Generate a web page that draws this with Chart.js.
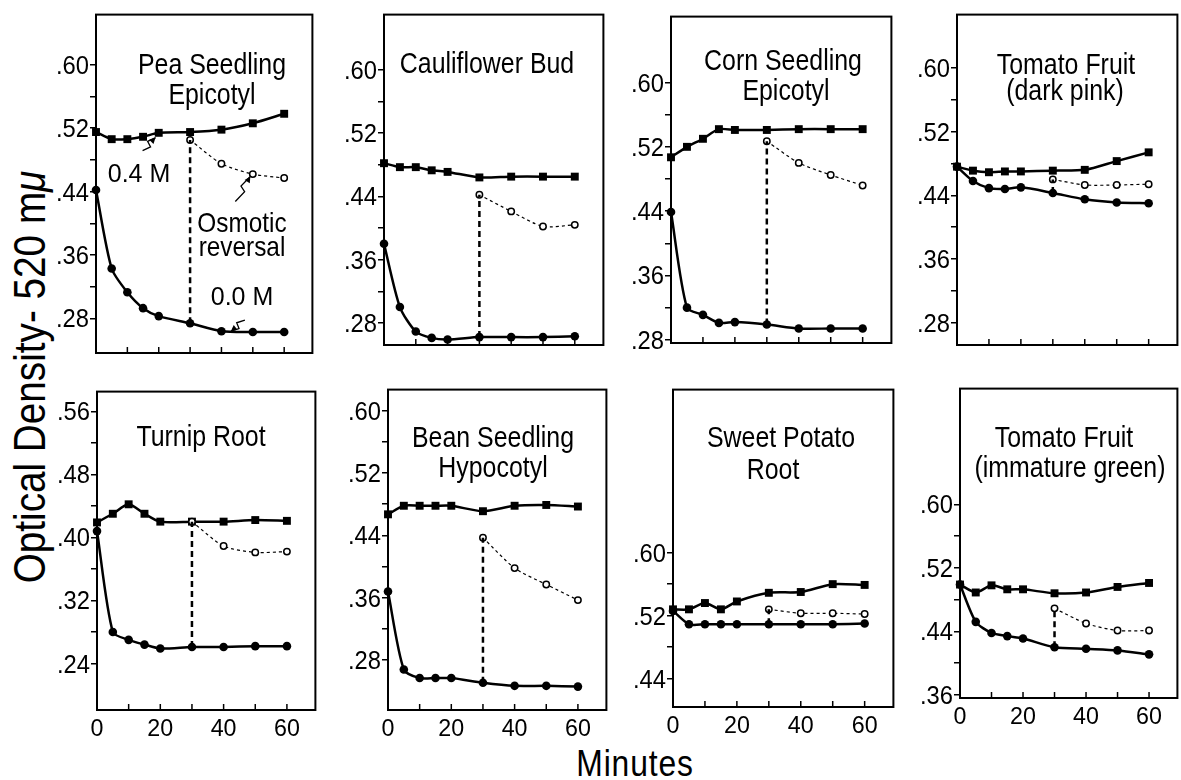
<!DOCTYPE html>
<html>
<head>
<meta charset="utf-8">
<script src="https://cdn.jsdelivr.net/npm/chart.js@4"></script>
<style>
  html, body { margin: 0; padding: 0; background: #fff; width: 1181px; height: 780px; overflow: hidden; }
  .panel { position: absolute; }
  .lbl { position: absolute; color: #000; white-space: nowrap; line-height: 1.15;
         font-family: "Liberation Sans", Arial, sans-serif; }
  #ylab { left: 30px; top: 377px; font-size: 45px; transform: translate(-50%, -50%) rotate(-90deg) scaleX(0.86); }
  #xlab { left: 635px; top: 764px; font-size: 37px; letter-spacing: 1px; transform: translate(-50%, -50%) scaleX(0.86); }
</style>
</head>
<body>
<div id="ylab" class="lbl">Optical Density- 520 m<i>μ</i></div>
<div id="xlab" class="lbl">Minutes</div>
<script>
// sampling times (min) and times of the osmotic reversal series
const minutes = [0, 5, 10, 15, 20, 30, 40, 50, 60];
const reversalMinutes = [30, 40, 50, 60];
const minuteTicks = [0, 10, 20, 30, 40, 50, 60];

// optical density, 0.4 M (squares), 0.0 M (filled circles), reversal (open circles)
const pea04M = [0.515, 0.506, 0.506, 0.509, 0.514, 0.515, 0.518, 0.526, 0.538];
const pea00M = [0.442, 0.343, 0.313, 0.293, 0.283, 0.274, 0.264, 0.263, 0.263];
const peaRev = [0.505, 0.475, 0.462, 0.457];

const cauli04M = [0.482, 0.477, 0.477, 0.473, 0.471, 0.464, 0.465, 0.465, 0.465];
const cauli00M = [0.380, 0.300, 0.269, 0.261, 0.259, 0.262, 0.262, 0.262, 0.263];
const cauliRev = [0.442, 0.421, 0.402, 0.404];

const corn04M = [0.507, 0.520, 0.530, 0.542, 0.541, 0.541, 0.542, 0.542, 0.542];
const corn00M = [0.439, 0.320, 0.311, 0.301, 0.302, 0.299, 0.294, 0.294, 0.294];
const cornRev = [0.527, 0.500, 0.485, 0.472];

const pink04M = [0.476, 0.471, 0.469, 0.470, 0.470, 0.471, 0.472, 0.483, 0.494];
const pink00M = [0.476, 0.458, 0.449, 0.448, 0.450, 0.443, 0.435, 0.431, 0.430];
const pinkRev = [0.460, 0.453, 0.453, 0.454];

const turnip04M = [0.419, 0.430, 0.442, 0.430, 0.420, 0.420, 0.420, 0.422, 0.421];
const turnip00M = [0.408, 0.280, 0.270, 0.264, 0.259, 0.261, 0.261, 0.262, 0.262];
const turnipRev = [0.420, 0.389, 0.381, 0.382];

const bean04M = [0.467, 0.478, 0.478, 0.478, 0.478, 0.471, 0.478, 0.479, 0.477];
const bean00M = [0.368, 0.268, 0.257, 0.257, 0.257, 0.251, 0.247, 0.247, 0.246];
const beanRev = [0.437, 0.398, 0.377, 0.357];

const sweet04M = [0.528, 0.528, 0.536, 0.528, 0.538, 0.549, 0.550, 0.560, 0.559];
const sweet00M = [0.526, 0.509, 0.509, 0.509, 0.509, 0.509, 0.509, 0.509, 0.510];
const sweetRev = [0.528, 0.523, 0.523, 0.522];

const green04M = [0.499, 0.489, 0.498, 0.493, 0.493, 0.488, 0.489, 0.496, 0.501];
const green00M = [0.499, 0.452, 0.438, 0.434, 0.431, 0.420, 0.418, 0.416, 0.411];
const greenRev = [0.469, 0.450, 0.441, 0.441];

const FONT = '"Liberation Sans", Arial, sans-serif';
Chart.defaults.font.family = FONT;
Chart.defaults.color = '#000';

const PADL = 55, PADT = 4, PADR = 4;

const panels = [
  { title: ['Pea Seedling', 'Epicotyl'], sq: pea04M, ci: pea00M, rev: peaRev,
    y: [0.2365, 0.663], ticks: [0.28, 0.60], box: [96, 13, 218, 340],
    tx: [116, 116], ty: [59, 89], bottom: false,
    notes: [['0.4 M', 43, 167, 25, 1.0], ['Osmotic', 146, 217, 28, 0.87], ['reversal', 146, 241, 28, 0.87], ['0.0 M', 146, 290, 25, 1.0]],
    arrows: [[19, 0.508, -13, 13], [49.2, 0.459, -15, 25], [43, 0.264, 14, -11]] },
  { title: ['Cauliflower Bud'], sq: cauli04M, ci: cauli00M, rev: cauliRev,
    y: [0.252, 0.670], ticks: [0.28, 0.60], box: [384, 13, 221, 332],
    tx: [103], ty: [58], bottom: false },
  { title: ['Corn Seedling', 'Epicotyl'], sq: corn04M, ci: corn00M, rev: cornRev,
    y: [0.276, 0.682], ticks: [0.28, 0.60], box: [671, 15, 222, 328],
    tx: [112, 115], ty: [53, 83], bottom: false },
  { title: ['Tomato Fruit', '(dark pink)'], sq: pink04M, ci: pink00M, rev: pinkRev,
    y: [0.252, 0.667], ticks: [0.28, 0.60], box: [957, 13, 222, 332],
    tx: [109, 108], ty: [59, 85], bottom: false },
  { title: ['Turnip Root'], sq: turnip04M, ci: turnip00M, rev: turnipRev,
    y: [0.181, 0.585], ticks: [0.24, 0.56], box: [97, 390, 220, 320],
    tx: [104], ty: [54], bottom: true },
  { title: ['Bean Seedling', 'Hypocotyl'], sq: bean04M, ci: bean00M, rev: beanRev,
    y: [0.216, 0.627], ticks: [0.28, 0.60], box: [388, 388, 220, 322],
    tx: [105, 105], ty: [57, 87], bottom: true },
  { title: ['Sweet Potato', 'Root'], sq: sweet04M, ci: sweet00M, rev: sweetRev,
    y: [0.404, 0.807], ticks: [0.44, 0.60], box: [673, 388, 222, 319],
    tx: [108, 100], ty: [57, 89], bottom: true },
  { title: ['Tomato Fruit', '(immature green)'], sq: green04M, ci: green00M, rev: greenRev,
    y: [0.356, 0.746], ticks: [0.36, 0.60], box: [960, 387, 219, 311],
    tx: [104, 110], ty: [58, 88], bottom: true }
];

// condensed lettering: plain font squeezed horizontally
function txt(ctx, s, x, y, size, sx, align) {
  ctx.save();
  ctx.font = size + 'px ' + FONT;
  ctx.textAlign = align || 'center';
  ctx.textBaseline = 'alphabetic';
  ctx.translate(x, y);
  ctx.scale(sx, 1);
  ctx.fillText(s, 0, 0);
  ctx.restore();
}

function decor(p) {
  return {
    id: 'decor',
    beforeDatasetsDraw(chart) {
      const { ctx, chartArea: a, scales: { x } } = chart;
      ctx.save();
      ctx.strokeStyle = '#000';
      ctx.lineWidth = 2;
      ctx.strokeRect(a.left, a.top, a.right - a.left, a.bottom - a.top);
      ctx.lineWidth = 1.5;
      x.ticks.forEach(t => {
        if (t.value <= 0) return;
        const px = x.getPixelForValue(t.value);
        ctx.beginPath();
        ctx.moveTo(px, a.bottom);
        ctx.lineTo(px, a.bottom - 6);
        ctx.stroke();
      });
      ctx.restore();
    },
    afterDraw(chart) {
      const { ctx, chartArea: a, scales: { x, y } } = chart;
      ctx.save();
      ctx.fillStyle = '#000';
      // tick labels
      y.ticks.forEach(t => {
        if (Math.round((t.value - p.ticks[0]) / 0.04) % 2 !== 0) return;
        txt(ctx, t.value.toFixed(2).slice(1), a.left - 7, y.getPixelForValue(t.value) + 9, 25, 0.95, 'right');
      });
      if (p.bottom) {
        x.ticks.forEach(t => {
          if (t.value % 20 !== 0) return;
          txt(ctx, String(t.value), x.getPixelForValue(t.value), a.bottom + 26, 24, 0.97, 'center');
        });
      }
      // panel titles and notes
      p.title.forEach((t, i) => txt(ctx, t, a.left + p.tx[i], a.top + p.ty[i], 30, 0.83, 'center'));
      (p.notes || []).forEach(n => txt(ctx, n[0], a.left + n[1], a.top + n[2], n[3], n[4], 'center'));
      // small zig-zag arrows pointing at the curves
      ctx.strokeStyle = '#000';
      ctx.lineWidth = 1.3;
      (p.arrows || []).forEach(ar => {
        const hx = x.getPixelForValue(ar[0]), hy = y.getPixelForValue(ar[1]);
        const tx = hx + ar[2], ty = hy + ar[3];
        const dx = hx - tx, dy = hy - ty, len = Math.hypot(dx, dy);
        const ux = dx / len, uy = dy / len, nx = -uy, ny = ux;
        ctx.beginPath();
        ctx.moveTo(tx, ty);
        ctx.lineTo(tx + dx * 0.45 + nx * 3, ty + dy * 0.45 + ny * 3);
        ctx.lineTo(tx + dx * 0.55 - nx * 3, ty + dy * 0.55 - ny * 3);
        ctx.lineTo(hx, hy);
        ctx.stroke();
        ctx.beginPath();
        ctx.moveTo(hx, hy);
        ctx.lineTo(hx - ux * 6 + nx * 3, hy - uy * 6 + ny * 3);
        ctx.lineTo(hx - ux * 6 - nx * 3, hy - uy * 6 - ny * 3);
        ctx.closePath();
        ctx.fill();
      });
      ctx.restore();
    }
  };
}

panels.forEach(p => {
  const padB = p.bottom ? 36 : 8;
  const [bl, bt, bw, bh] = p.box;
  const W = bw + PADL + PADR, H = bh + PADT + padB;
  const div = document.createElement('div');
  div.className = 'panel';
  div.style.left = (bl - PADL) + 'px';
  div.style.top = (bt - PADT) + 'px';
  const cv = document.createElement('canvas');
  cv.width = W; cv.height = H;
  div.appendChild(cv);
  document.body.appendChild(div);

  const i30 = minutes.indexOf(30);
  new Chart(cv, {
    type: 'line',
    data: {
      datasets: [
        { label: 'transfer', data: [{ x: 30, y: p.ci[i30] }, { x: 30, y: p.rev[0] }],
          borderColor: '#000', borderWidth: 2.5, borderDash: [6, 4], pointRadius: 0, clip: false },
        { label: 'Osmotic reversal', data: reversalMinutes.map((m, i) => ({ x: m, y: p.rev[i] })),
          borderColor: '#000', borderWidth: 1.2, borderDash: [3, 3], tension: 0.25,
          pointStyle: 'circle', pointRadius: 3.2, pointBackgroundColor: '#fff',
          pointBorderColor: '#000', pointBorderWidth: 1.5, clip: false },
        { label: '0.0 M', data: minutes.map((m, i) => ({ x: m, y: p.ci[i] })),
          borderColor: '#000', borderWidth: 2.5, tension: 0.25,
          pointStyle: 'circle', pointRadius: 4.3, pointBackgroundColor: '#000',
          pointBorderColor: '#000', pointBorderWidth: 0, clip: false },
        { label: '0.4 M', data: minutes.map((m, i) => ({ x: m, y: p.sq[i] })),
          borderColor: '#000', borderWidth: 2.5, tension: 0.25,
          pointStyle: 'rect', pointRadius: 5.6, pointBackgroundColor: '#000',
          pointBorderColor: '#000', pointBorderWidth: 0, clip: false }
      ]
    },
    options: {
      responsive: false,
      animation: false,
      events: [],
      layout: { padding: { left: 0, top: PADT, right: PADR, bottom: 0 } },
      plugins: { legend: { display: false }, tooltip: { enabled: false } },
      scales: {
        x: {
          type: 'linear', min: 0, max: 69,
          afterBuildTicks: s => { s.ticks = minuteTicks.map(v => ({ value: v })); },
          afterFit: s => { s.height = padB; s.paddingLeft = 0; s.paddingRight = 0; },
          grid: { display: false },
          border: { display: false },
          ticks: { display: false }
        },
        y: {
          type: 'linear', min: p.y[0], max: p.y[1],
          afterBuildTicks: s => {
            const t = [];
            for (let k = 0; p.ticks[0] + k * 0.04 <= p.ticks[1] + 1e-6; k++) {
              t.push({ value: +(p.ticks[0] + k * 0.04).toFixed(2) });
            }
            s.ticks = t;
          },
          afterFit: s => { s.width = PADL; s.paddingTop = 0; s.paddingBottom = 0; },
          grid: { drawOnChartArea: false, drawTicks: true, tickLength: 6, color: '#000', lineWidth: 1.5 },
          border: { display: false },
          ticks: { display: false }
        }
      }
    },
    plugins: [decor(p)]
  });
});
</script>
</body>
</html>
